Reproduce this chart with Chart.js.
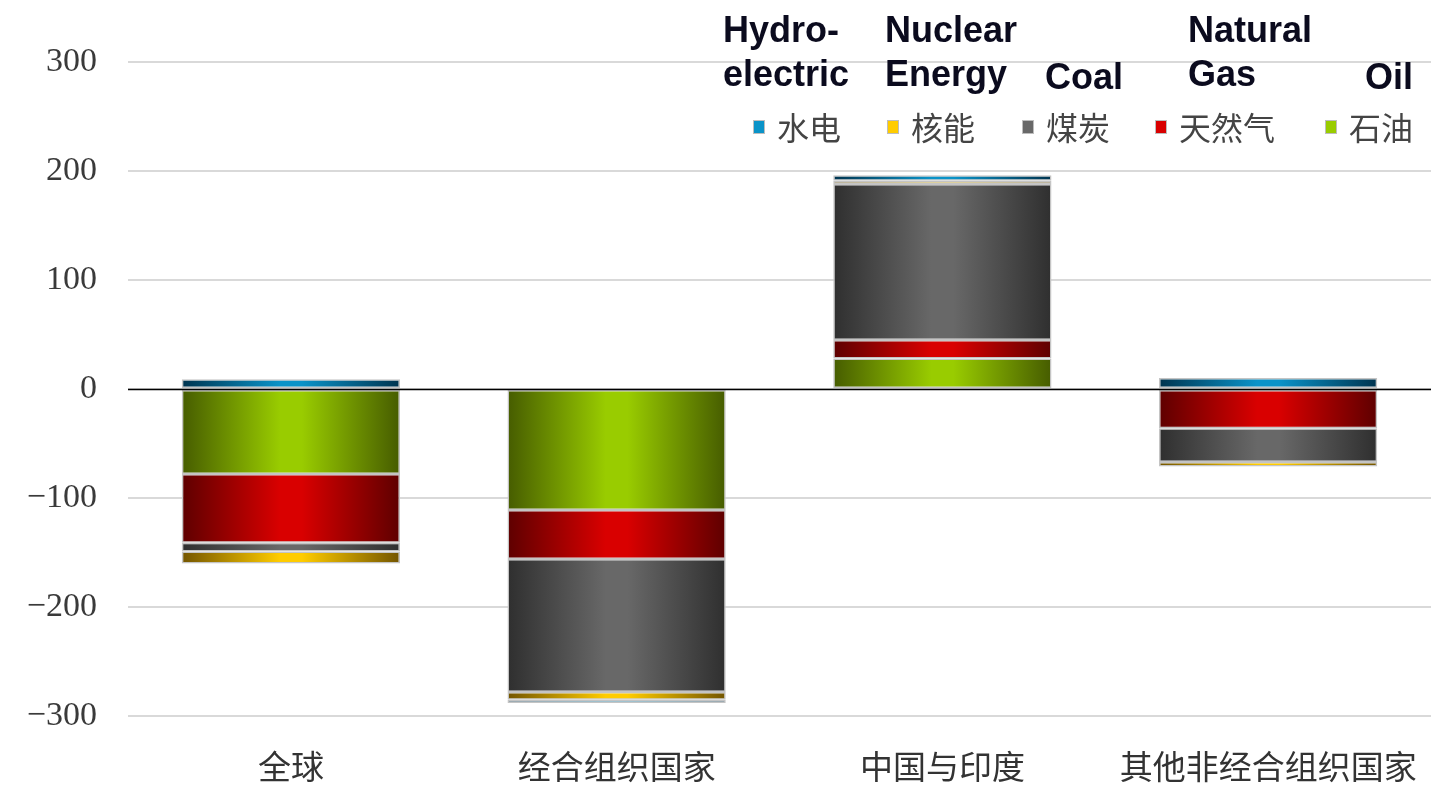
<!DOCTYPE html>
<html lang="zh">
<head>
    <meta charset="UTF-8">
    <title>Energy change by region</title>
    <script src="https://cdn.jsdelivr.net/npm/chart.js"></script>
    <style>
        body {
            margin: 0;
            padding: 0;
            background: #fff;
        }
        .chart-box {
            width: 1431px;
            height: 787px;
            position: relative;
        }
    </style>
</head>
<body>
    <div class="chart-box">
        <canvas id="energyChart"></canvas>
    </div>

    <script>
        // categories and series (stacked from zero outward: oil first, hydro last)
        const categories = ['全球', '经合组织国家', '中国与印度', '其他非经合组织国家'];
        const oil = [-78, -111, 28, null];
        const gas = [-63, -45, 17, -36];
        const coal = [-8, -122, 143, -31];
        const nuclear = [-11, -7, 3, -4];
        const hydro = [9, -3, 5, 10];
        const yTicks = [-300, -200, -100, 0, 100, 200, 300];

        const seriesNames = ['石油', '天然气', '煤炭', '核能', '水电'];
        const englishNames = [['', 'Oil'], ['Natural', 'Gas'], ['', 'Coal'], ['Nuclear', 'Energy'], ['Hydro-', 'electric']];

        // edge / centre colours for the cylinder-like shading
        const shades = [
            ['#465c00', '#99cc00'],
            ['#5e0000', '#d90000'],
            ['#2f2f2f', '#686868'],
            ['#735500', '#ffcc00'],
            ['#00344f', '#0a93c8']
        ];

        const BAR_PCT = 0.67;

        const shadedFill = (idx) => (ctx) => {
            const chart = ctx.chart;
            const [edge, mid] = shades[idx];
            if (!chart.chartArea || ctx.type !== 'data') return mid;
            const xs = chart.scales.x;
            const cx = xs.getPixelForValue(ctx.dataIndex);
            const half = xs.width / categories.length * BAR_PCT / 2;
            const g = chart.ctx.createLinearGradient(cx - half, 0, cx + half, 0);
            g.addColorStop(0, edge);
            g.addColorStop(0.45, mid);
            g.addColorStop(0.55, mid);
            g.addColorStop(1, edge);
            return g;
        };

        const seriesData = [oil, gas, coal, nuclear, hydro];
        const datasets = seriesData.map((vals, i) => ({
            label: seriesNames[i],
            data: vals,
            backgroundColor: shadedFill(i),
            borderColor: '#c4c4c4',
            borderWidth: 1.5,
            borderSkipped: false,
            categoryPercentage: 1,
            barPercentage: BAR_PCT
        }));

        // zero line on top of the bars
        const zeroLine = {
            id: 'zeroLine',
            afterDatasetsDraw(chart) {
                const { ctx, chartArea, scales } = chart;
                const y = Math.round(scales.y.getPixelForValue(0)) + 0.5;
                ctx.save();
                ctx.strokeStyle = '#000';
                ctx.lineWidth = 1.5;
                ctx.beginPath();
                ctx.moveTo(chartArea.left, y);
                ctx.lineTo(chartArea.right, y);
                ctx.stroke();
                ctx.restore();
            }
        };

        // legend row in the top right, plus the english captions above it
        const legendX = [753, 887, 1022, 1155, 1325];
        const captionX = [723, 885, 1045, 1188, 1365];

        const legendAndCaptions = {
            id: 'legendAndCaptions',
            afterDraw(chart) {
                const ctx = chart.ctx;
                ctx.save();

                // legend: reversed order (水电 first)
                const yMid = 127;
                ctx.font = '32px "Noto Sans CJK SC"';
                ctx.textBaseline = 'middle';
                for (let k = 0; k < seriesNames.length; k++) {
                    const i = seriesNames.length - 1 - k;
                    const x = legendX[k];
                    ctx.fillStyle = shades[i][1];
                    ctx.fillRect(x, yMid - 7, 12, 14);
                    ctx.strokeStyle = '#bdbdbd';
                    ctx.lineWidth = 1;
                    ctx.strokeRect(x + 0.5, yMid - 6.5, 11, 13);
                    ctx.fillStyle = '#444';
                    ctx.fillText(seriesNames[i], x + 24, yMid + 1);
                }

                // english captions
                ctx.font = 'bold 36px "Liberation Sans", Arial, sans-serif';
                ctx.fillStyle = '#0b0b1e';
                ctx.textBaseline = 'alphabetic';
                for (let k = 0; k < 5; k++) {
                    const names = englishNames[seriesNames.length - 1 - k];
                    if (names[0]) ctx.fillText(names[0], captionX[k], 42);
                    const base2 = names[0] ? 86 : 89;
                    ctx.fillText(names[1], captionX[k], base2);
                }
                ctx.restore();
            }
        };

        new Chart(document.getElementById('energyChart'), {
            type: 'bar',
            data: {
                labels: categories,
                datasets: datasets
            },
            options: {
                responsive: true,
                maintainAspectRatio: false,
                animation: false,
                layout: {
                    padding: { top: 62, right: 0, bottom: 0, left: 0 }
                },
                plugins: {
                    legend: { display: false },
                    tooltip: { enabled: false }
                },
                scales: {
                    x: {
                        stacked: true,
                        grid: { display: false },
                        border: { display: false },
                        ticks: {
                            color: '#333',
                            padding: 23,
                            maxRotation: 0,
                            font: { family: '"Noto Sans CJK SC"', size: 33 }
                        },
                        afterFit: (scale) => {
                            scale.height = 71;
                            scale.paddingLeft = 0;
                            scale.paddingRight = 0;
                        }
                    },
                    y: {
                        stacked: true,
                        min: -300,
                        max: 300,
                        afterBuildTicks: (scale) => {
                            scale.ticks = yTicks.map(v => ({ value: v }));
                        },
                        grid: {
                            color: '#d9d9d9',
                            lineWidth: 2,
                            drawTicks: false
                        },
                        border: { display: false },
                        ticks: {
                            color: '#3a3a3a',
                            padding: 31,
                            font: { family: '"Liberation Serif", serif', size: 34 },
                            callback: (v) => String(v).replace('-', '\u2212')
                        },
                        afterFit: (scale) => { scale.width = 128; }
                    }
                }
            },
            plugins: [zeroLine, legendAndCaptions]
        });
    </script>
</body>
</html>
